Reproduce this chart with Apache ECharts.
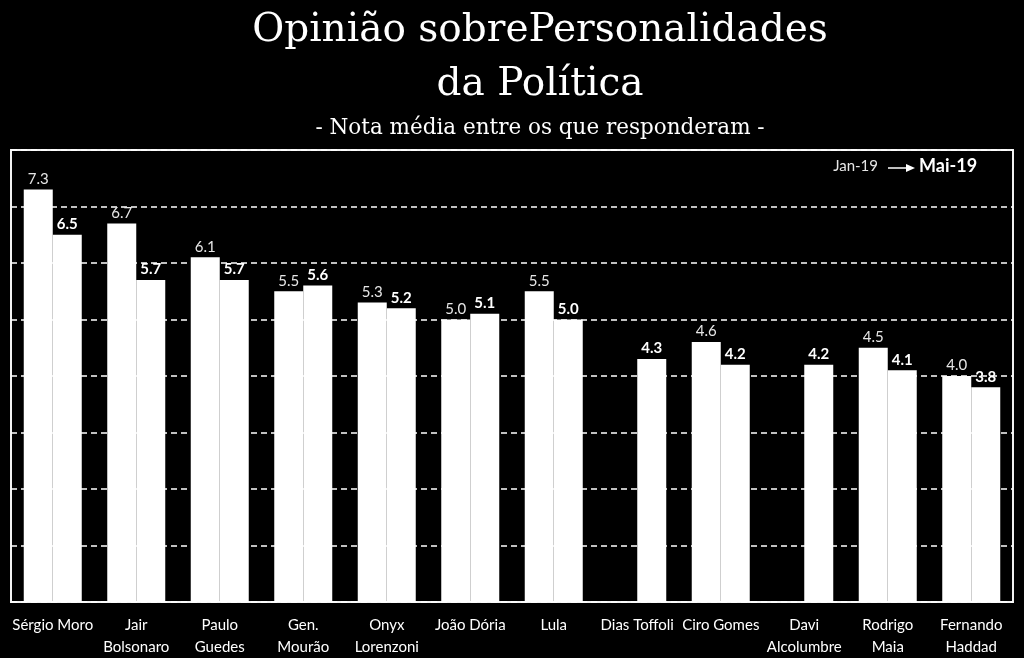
<!DOCTYPE html>
<html>
<head>
<meta charset="utf-8">
<script src="https://cdn.jsdelivr.net/npm/echarts@6/dist/echarts.min.js"></script>
<style>html,body{margin:0;padding:0;background:#000}#c{width:1024px;height:658px}</style>
</head>
<body>
<div id="c"></div>
<script>
var categories = ['Sérgio Moro','Jair\nBolsonaro','Paulo\nGuedes','Gen.\nMourão','Onyx\nLorenzoni','João Dória','Lula','Dias Toffoli','Ciro Gomes','Davi\nAlcolumbre','Rodrigo\nMaia','Fernando\nHaddad'];
var jan19 = [7.3, 6.7, 6.1, 5.5, 5.3, 5.0, 5.5, null, 4.6, null, 4.5, 4.0];
var mai19 = [6.5, 5.7, 5.7, 5.6, 5.2, 5.1, 5.0, 4.3, 4.2, 4.2, 4.1, 3.8];
var seriesNames = ['Jan-19','Mai-19'];
var titleLines = ['Opinião sobrePersonalidades','da Política'];
var subtitleText = '- Nota média entre os que responderam -';

var chart = echarts.init(document.getElementById('c'));
var lblFont = 'Lato, "Liberation Sans", sans-serif';
chart.setOption({
  backgroundColor: '#000',
  animation: false,
  grid: { left: 11, right: 11, top: 150, bottom: 56, show: true, borderColor: '#f2f2f2', borderWidth: 2, containLabel: false },
  xAxis: {
    type: 'category', data: categories,
    axisLine: { show: false }, axisTick: { show: false },
    axisLabel: { color: '#fff', fontFamily: lblFont, fontSize: 15, lineHeight: 22, margin: 12, interval: 0 }
  },
  yAxis: {
    type: 'value', min: 0, max: 8, interval: 1,
    axisLine: { show: false }, axisTick: { show: false }, axisLabel: { show: false },
    splitLine: { lineStyle: { color: '#fff', type: [6, 4], width: 1.5 } }
  },
  series: [
    { name: seriesNames[0], type: 'bar', data: jan19, barWidth: 29, barGap: '0%',
      itemStyle: { color: '#fff' },
      label: { show: true, position: 'top', distance: 3, color: '#e6e6e6', fontFamily: lblFont, fontSize: 15, formatter: function(p){ return p.value.toFixed(1); } } },
    { name: seriesNames[1], type: 'bar', data: mai19, barWidth: 29,
      itemStyle: { color: '#fff' },
      label: { show: true, position: 'top', distance: 3, color: '#fff', fontFamily: lblFont, fontWeight: 'bold', fontSize: 15, formatter: function(p){ return p.value.toFixed(1); } } }
  ],
  graphic: [
    { type: 'text', x: 540, y: 11, style: { text: titleLines[0], fill: '#fff', font: '39px "DejaVu Serif"', textAlign: 'center' } },
    { type: 'text', x: 540, y: 65, style: { text: titleLines[1], fill: '#fff', font: '39px "DejaVu Serif"', textAlign: 'center' } },
    { type: 'text', x: 540, y: 117, style: { text: subtitleText, fill: '#fff', font: '21.5px "DejaVu Serif"', textAlign: 'center' } },
    { type: 'text', x: 878, y: 159, style: { text: seriesNames[0], fill: '#e6e6e6', font: '15px ' + lblFont, textAlign: 'right' } },
    { type: 'line', shape: { x1: 888, y1: 168, x2: 908, y2: 168 }, style: { stroke: '#fff', lineWidth: 1.5 } },
    { type: 'polygon', shape: { points: [[906, 164], [915, 168], [906, 172]] }, style: { fill: '#fff' } },
    { type: 'text', x: 919, y: 157, style: { text: seriesNames[1], fill: '#fff', font: 'bold 18px ' + lblFont, textAlign: 'left' } }
  ]
});
</script>
</body>
</html>
